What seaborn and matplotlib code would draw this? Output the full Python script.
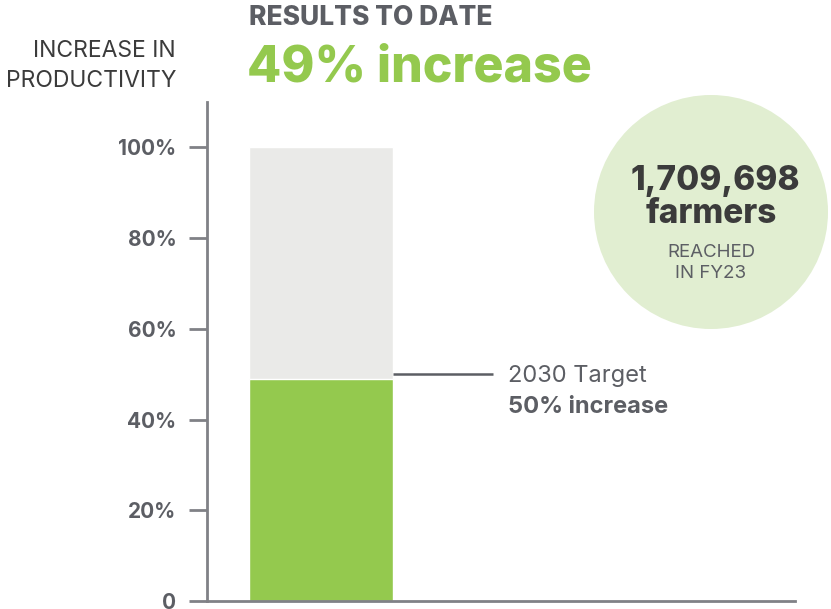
import matplotlib
matplotlib.use("Agg")
import matplotlib.pyplot as plt
from matplotlib.patches import Circle
from matplotlib.transforms import IdentityTransform
import seaborn as sns

# values
categories = ["Productivity"]
full_scale = [100]
results = [49]
target = [50]
y_ticks = [0, 20, 40, 60, 80, 100]
y_labels = ["0", "20%", "40%", "60%", "80%", "100%"]
farmers_reached = "1,709,698"

green = "#94c94e"
light_grey = "#eaeae8"
axis_grey = "#808186"
text_grey = "#5c5e64"
dark = "#3b3b3b"

sns.set_theme(style="white")
plt.rcParams["font.family"] = ["Inter", "DejaVu Sans"]

fig = plt.figure(figsize=(8.31, 6.09), dpi=100)
ax = fig.add_axes([207 / 831, 8 / 609, 588 / 831, 499 / 609])
ax.patch.set_alpha(0)

sns.barplot(x=categories, y=full_scale, color=light_grey, width=0.8,
            saturation=1, ax=ax)
sns.barplot(x=categories, y=results, color=green, width=0.8,
            saturation=1, ax=ax)

ax.set_xlim(-0.633, 2.633)
ax.set_ylim(0, 110)
ax.set_yticks(y_ticks)
ax.set_yticklabels(y_labels, fontweight="bold", fontsize=15, color=text_grey)
ax.set_xticks([])
ax.set_xlabel("")
ax.set_ylabel("")
ax.tick_params(axis="y", direction="out", length=13, width=2,
               color=axis_grey, pad=9, left=True)
for side in ["top", "right"]:
    ax.spines[side].set_visible(False)
for side in ["left", "bottom"]:
    ax.spines[side].set_color(axis_grey)
    ax.spines[side].set_linewidth(2)

# target marker
ax.plot([0.4, 0.956], [target[0], target[0]], color=text_grey, lw=1.8,
        solid_capstyle="butt")
ax.text(1.04, target[0] - 0.5, "2030 Target", fontsize=17, color=text_grey,
        va="center", ha="left")
ax.text(1.04, target[0] - 7.2, f"{target[0]}% increase", fontsize=17,
        fontweight="bold", color=text_grey, va="center", ha="left")

# headline
fig.text(249 / 831, 1 - 18 / 609, "RESULTS TO DATE", fontsize=19,
         fontweight="heavy", color=text_grey, ha="left", va="center")
fig.text(247 / 831, 1 - 68 / 609, f"{results[0]}% increase", fontsize=36,
         fontweight="heavy", color=green, ha="left", va="center")
fig.text(176 / 831, 1 - 66 / 609, "INCREASE IN\nPRODUCTIVITY", fontsize=16.5,
         fontweight="normal", color=dark, ha="right", va="center",
         linespacing=1.45)

# circle callout
fig.add_artist(Circle((711, 609 - 212), 117, transform=IdentityTransform(),
                      facecolor="#e1eed1", edgecolor="none", zorder=-1))
fig.text(715 / 831, 1 - 181 / 609, farmers_reached, fontsize=24,
         fontweight="heavy", color=dark, ha="center", va="center")
fig.text(711 / 831, 1 - 214 / 609, "farmers", fontsize=24,
         fontweight="heavy", color=dark, ha="center", va="center")
fig.text(711 / 831, 1 - 263 / 609, "REACHED\nIN FY23", fontsize=13.5,
         fontweight="normal", color=text_grey, ha="center", va="center",
         linespacing=1.3)

fig.savefig("out.png", dpi=100)
